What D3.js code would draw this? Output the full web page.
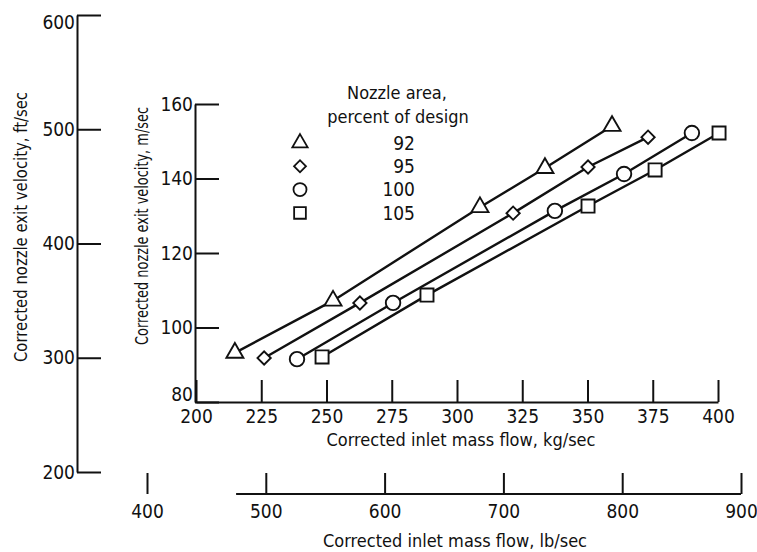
<!DOCTYPE html>
<html>
<head>
<meta charset="utf-8">
<script src="https://cdn.jsdelivr.net/npm/d3@7"></script>
<style>
  body { margin: 0; background: #fff; }
  svg text { font-family: "Liberation Sans Narrow", "DejaVu Sans Condensed", sans-serif; fill: #111; }
  .axis path, .axis line { stroke: #111; stroke-width: 2; }
</style>
</head>
<body>
<div id="chart"></div>
<script>
// =============================================================
// DATA

let nozzle_areas = [ '92', '95', '100', '105' ];     // percent of design
let symbols      = [ 'triangle', 'diamond', 'circle', 'square' ];

// corrected inlet mass flow, kg/sec
let flow_92  = [ 214.9, 252.5, 308.8, 333.7, 359.4 ];
let flow_95  = [ 226.1, 262.8, 321.5, 350.2, 373.2 ];
let flow_100 = [ 238.7, 275.5, 337.5, 364.0, 390.0 ];
let flow_105 = [ 248.3, 288.5, 350.2, 375.9, 400.4 ];

// corrected nozzle exit velocity, m/sec
let vel_92  = [ 93.2, 107.2, 132.3, 142.8, 154.1 ];
let vel_95  = [ 91.8, 106.6, 130.7, 143.1, 151.1 ];
let vel_100 = [ 91.5, 106.6, 131.3, 141.2, 152.2 ];
let vel_105 = [ 92.1, 108.7, 132.6, 142.3, 152.2 ];

let kg_ticks = [ 200, 225, 250, 275, 300, 325, 350, 375, 400 ];
let ms_ticks = [ 80, 100, 120, 140, 160 ];
let ft_ticks = [ 200, 300, 400, 500, 600 ];
let lb_ticks = [ 400, 500, 600, 700, 800, 900 ];

// =============================================================
// SCALES

let width = 757, height = 552;
let tick_font = 19, title_font = 18, side_font = 18;

let x_kg = d3.scaleLinear().domain([200, 400]).range([196, 718]);
let y_ms = d3.scaleLinear().domain([80, 160]).range([402, 104]);
let y_ft = d3.scaleLinear().domain([200, 600]).range([472, 15]);
let x_lb = d3.scaleLinear().domain([400, 900]).range([147, 741]);

let svg = d3.select('#chart')
            .append('svg')
            .attr('width', width)
            .attr('height', height);

// =============================================================
// AXES

// outer velocity axis, ft/sec
svg.append('g')
   .attr('class', 'axis')
   .attr('transform', 'translate(77,0)')
   .call(d3.axisLeft(y_ft).tickValues(ft_ticks).tickSizeInner(-24).tickSizeOuter(0).tickPadding(2))
   .call(g => g.selectAll('text').attr('font-size', tick_font))
   .call(g => g.selectAll('.tick text').filter(d => d === 600).attr('dy', '0.7em'));

// inner velocity axis, m/sec
svg.append('g')
   .attr('class', 'axis')
   .attr('transform', 'translate(195,0)')
   .call(d3.axisLeft(y_ms).tickValues(ms_ticks).tickSizeInner(-24).tickSizeOuter(0).tickPadding(2))
   .call(g => g.selectAll('text').attr('font-size', tick_font))
   .call(g => g.selectAll('.tick text').filter(d => d === 80).attr('dy', '-0.1em'));

// inner mass flow axis, kg/sec
svg.append('g')
   .attr('class', 'axis')
   .attr('transform', 'translate(0,402)')
   .call(d3.axisBottom(x_kg).tickValues(kg_ticks).tickSizeInner(-22).tickSizeOuter(0).tickPadding(8))
   .call(g => g.selectAll('text').attr('font-size', tick_font));

// outer mass flow axis, lb/sec (baseline starts short of the 400 tick)
let lb_axis = svg.append('g')
   .attr('class', 'axis')
   .attr('transform', 'translate(0,494)')
   .call(d3.axisBottom(x_lb).tickValues(lb_ticks).tickSizeInner(-21).tickSizeOuter(0).tickPadding(11))
   .call(g => g.select('.domain').remove())
   .call(g => g.selectAll('text').attr('font-size', tick_font));

lb_axis.append('line')
   .attr('x1', x_lb(475)).attr('x2', x_lb(900))
   .attr('y1', 0).attr('y2', 0)
   .attr('stroke', '#111').attr('stroke-width', 2);

// axis titles (side ones are squeezed in the scan)
svg.append('text')
   .attr('transform', 'translate(27,227) rotate(-90)')
   .attr('text-anchor', 'middle')
   .attr('font-size', side_font)
   .attr('textLength', 270)
   .attr('lengthAdjust', 'spacingAndGlyphs')
   .text('Corrected nozzle exit velocity,  ft/sec');

svg.append('text')
   .attr('transform', 'translate(148,226) rotate(-90)')
   .attr('text-anchor', 'middle')
   .attr('font-size', side_font)
   .attr('textLength', 238)
   .attr('lengthAdjust', 'spacingAndGlyphs')
   .text('Corrected nozzle exit velocity,  m/sec');

svg.append('text')
   .attr('x', 461).attr('y', 446)
   .attr('text-anchor', 'middle')
   .attr('font-size', title_font)
   .text('Corrected inlet mass flow,  kg/sec');

svg.append('text')
   .attr('x', 455).attr('y', 547)
   .attr('text-anchor', 'middle')
   .attr('font-size', title_font)
   .text('Corrected inlet mass flow,  lb/sec');

// =============================================================
// SERIES

let series = [
    { area: nozzle_areas[0], sym: symbols[0], flow: flow_92,  vel: vel_92  },
    { area: nozzle_areas[1], sym: symbols[1], flow: flow_95,  vel: vel_95  },
    { area: nozzle_areas[2], sym: symbols[2], flow: flow_100, vel: vel_100 },
    { area: nozzle_areas[3], sym: symbols[3], flow: flow_105, vel: vel_105 }
];

function symbolPath(sym, scale) {
    // open markers, sized to the scanned figure
    let s = scale || 1;
    if (sym === 'triangle') return d3.symbol(d3.symbolTriangle, 125 * s * s)();
    if (sym === 'diamond')  return d3.symbol(d3.symbolSquare, 88 * s * s)();
    if (sym === 'circle')   return d3.symbol(d3.symbolCircle, 165 * s * s)();
    return d3.symbol(d3.symbolSquare, 170 * s * s)();
}

let line = d3.line()
             .x(d => x_kg(d[0]))
             .y(d => y_ms(d[1]));

series.forEach(function(s) {
    let pts = s.flow.map((f, i) => [ f, s.vel[i] ]);

    svg.append('path')
       .datum(pts)
       .attr('d', line)
       .attr('fill', 'none')
       .attr('stroke', '#111')
       .attr('stroke-width', 2.4);

    svg.selectAll('.pt-' + s.area)
       .data(pts)
       .enter()
       .append('path')
       .attr('class', 'pt-' + s.area)
       .attr('d', symbolPath(s.sym))
       .attr('transform', d => 'translate(' + x_kg(d[0]) + ',' + y_ms(d[1]) + ')' + (s.sym === 'diamond' ? ' rotate(45)' : ''))
       .attr('fill', '#fff')
       .attr('stroke', '#111')
       .attr('stroke-width', 1.9);
});

// =============================================================
// LEGEND

svg.append('text')
   .attr('x', 397).attr('y', 99)
   .attr('text-anchor', 'middle')
   .attr('font-size', title_font)
   .text('Nozzle area,');

svg.append('text')
   .attr('x', 398).attr('y', 123)
   .attr('text-anchor', 'middle')
   .attr('font-size', title_font)
   .text('percent of design');

let legend = svg.selectAll('.legend')
                .data(series)
                .enter()
                .append('g')
                .attr('class', 'legend')
                .attr('transform', (d, i) => 'translate(0,' + (143 + i * 23.3) + ')');

legend.append('path')
      .attr('d', d => symbolPath(d.sym, 0.9))
      .attr('transform', d => 'translate(300,0)' + (d.sym === 'diamond' ? ' rotate(45)' : ''))
      .attr('fill', '#fff')
      .attr('stroke', '#111')
      .attr('stroke-width', 1.8);

legend.append('text')
      .attr('x', 415).attr('y', 0)
      .attr('dy', '0.36em')
      .attr('text-anchor', 'end')
      .attr('font-size', tick_font)
      .text(d => d.area);
</script>
</body>
</html>
